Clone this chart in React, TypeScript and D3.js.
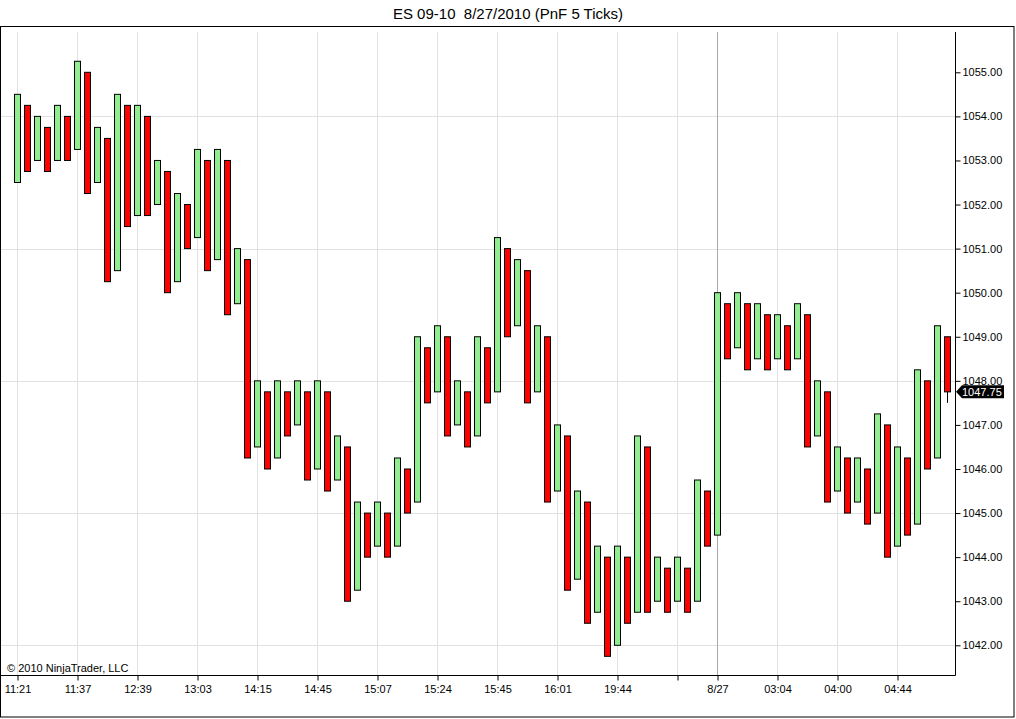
import * as d3 from "d3";
import { useRef, useEffect } from "react";

// PnF columns, oldest first; even columns are X (up), odd are O (down)
const highs = [
  1054.5, 1054.25, 1054.0, 1053.75, 1054.25, 1054.0, 1055.25, 1055.0, 1053.75, 1053.5,
  1054.5, 1054.25, 1054.25, 1054.0, 1053.0, 1052.75, 1052.25, 1052.0, 1053.25, 1053.0,
  1053.25, 1053.0, 1051.0, 1050.75, 1048.0, 1047.75, 1048.0, 1047.75, 1048.0, 1047.75,
  1048.0, 1047.75, 1046.75, 1046.5, 1045.25, 1045.0, 1045.25, 1045.0, 1046.25, 1046.0,
  1049.0, 1048.75, 1049.25, 1049.0, 1048.0, 1047.75, 1049.0, 1048.75, 1051.25, 1051.0,
  1050.75, 1050.5, 1049.25, 1049.0, 1047.0, 1046.75, 1045.5, 1045.25, 1044.25, 1044.0,
  1044.25, 1044.0, 1046.75, 1046.5, 1044.0, 1043.75, 1044.0, 1043.75, 1045.75, 1045.5,
  1050.0, 1049.75, 1050.0, 1049.75, 1049.75, 1049.5, 1049.5, 1049.25, 1049.75, 1049.5,
  1048.0, 1047.75, 1046.5, 1046.25, 1046.25, 1046.0, 1047.25, 1047.0, 1046.5, 1046.25,
  1048.25, 1048.0, 1049.25, 1049.0,
];
const lows = [
  1052.5, 1052.75, 1053.0, 1052.75, 1053.0, 1053.0, 1053.25, 1052.25, 1052.5, 1050.25,
  1050.5, 1051.5, 1051.75, 1051.75, 1052.0, 1050.0, 1050.25, 1051.0, 1051.25, 1050.5,
  1050.75, 1049.5, 1049.75, 1046.25, 1046.5, 1046.0, 1046.25, 1046.75, 1047.0, 1045.75,
  1046.0, 1045.5, 1045.75, 1043.0, 1043.25, 1044.0, 1044.25, 1044.0, 1044.25, 1045.0,
  1045.25, 1047.5, 1047.75, 1046.75, 1047.0, 1046.5, 1046.75, 1047.5, 1047.75, 1049.0,
  1049.25, 1047.5, 1047.75, 1045.25, 1045.5, 1043.25, 1043.5, 1042.5, 1042.75, 1041.75,
  1042.0, 1042.5, 1042.75, 1042.75, 1043.0, 1042.75, 1043.0, 1042.75, 1043.0, 1044.25,
  1044.5, 1048.5, 1048.75, 1048.25, 1048.5, 1048.25, 1048.5, 1048.25, 1048.5, 1046.5,
  1046.75, 1045.25, 1045.5, 1045.0, 1045.25, 1044.75, 1045.0, 1044.0, 1044.25, 1044.5,
  1044.75, 1046.0, 1046.25, 1047.75,
];
const lastPrice = 1047.5;
const lastClose = 1047.75;

const timeTicks = [0, 6, 12, 18, 24, 30, 36, 42, 48, 54, 60, 66, 70, 76, 82, 88];
const timeLabels = [
  "11:21", "11:37", "12:39", "13:03", "14:15", "14:45", "15:07", "15:24",
  "15:45", "16:01", "19:44", "", "8/27", "03:04", "04:00", "04:44",
];
const sessionBreak = 70;
const priceTicks = d3.range(1042, 1056, 1);
const gridPrices = [1042, 1045, 1048, 1051, 1054];

const FONT = "'Liberation Sans', Arial, sans-serif";

export default function App() {
  const width = 1016;
  const height = 719;
  const plotLeft = 1;
  const plotRight = 955;
  const plotTop = 32;
  const plotBottom = 675;

  const gx = useRef<SVGGElement | null>(null);
  const gy = useRef<SVGGElement | null>(null);

  const x = d3.scaleLinear([0, highs.length - 1], [17, 947]);
  const y = d3.scaleLinear([1042, 1055], [645.3, 72.3]);

  useEffect(() => {
    const ax = d3
      .axisBottom(x)
      .tickValues(timeTicks)
      .tickFormat((_, i) => timeLabels[i])
      .tickSize(5)
      .tickSizeOuter(0);
    const g = d3.select(gx.current!).call(ax);
    g.select(".domain").remove();
    g.selectAll("text")
      .attr("font-family", FONT)
      .attr("font-size", 11)
      .attr("fill", "#000")
      .attr("dy", "0.9em");
    g.selectAll("line").attr("stroke", "#000");
  }, []);

  useEffect(() => {
    const ay = d3
      .axisRight(y)
      .tickValues(priceTicks)
      .tickFormat(d3.format(".2f"))
      .tickSize(5)
      .tickPadding(2)
      .tickSizeOuter(0);
    const g = d3.select(gy.current!).call(ay);
    g.select(".domain").remove();
    g.selectAll("text")
      .attr("font-family", FONT)
      .attr("font-size", 11)
      .attr("fill", "#000");
    g.selectAll("line").attr("stroke", "#000");
  }, []);

  const yl = y(lastClose);

  return (
    <svg
      width={width}
      height={height}
      style={{ position: "absolute", left: 0, top: 0, background: "#fff" }}
    >
      <text
        x={508}
        y={18.5}
        textAnchor="middle"
        fontFamily={FONT}
        fontSize={15}
        fill="#000"
        style={{ whiteSpace: "pre" }}
      >
        {"ES 09-10  8/27/2010 (PnF 5 Ticks)"}
      </text>
      <rect x={0.5} y={26.5} width={1013.5} height={690.5} fill="none" stroke="#000" />

      <g stroke="#e1e1e1" strokeWidth={1}>
        {gridPrices.map((p) => (
          <line key={p} x1={plotLeft} x2={plotRight} y1={Math.round(y(p)) + 0.5} y2={Math.round(y(p)) + 0.5} />
        ))}
        {timeTicks
          .filter((t) => t !== sessionBreak)
          .map((t) => (
            <line key={t} x1={x(t) + 0.5} x2={x(t) + 0.5} y1={plotTop} y2={plotBottom} />
          ))}
      </g>
      <line
        x1={x(sessionBreak) + 0.5}
        x2={x(sessionBreak) + 0.5}
        y1={plotTop}
        y2={plotBottom}
        stroke="#a9a9a9"
      />

      <line x1={x(93) + 0.5} x2={x(93) + 0.5} y1={y(lastClose)} y2={y(lastPrice)} stroke="#000" />
      <g stroke="#000" strokeWidth={1}>
        {highs.map((h, i) => (
          <rect
            key={i}
            x={Math.round(x(i)) - 3 + 0.5}
            y={y(h)}
            width={6}
            height={y(lows[i]) - y(h)}
            fill={i % 2 === 0 ? "#90ee90" : "#ff0000"}
          />
        ))}
      </g>

      <line x1={plotLeft} x2={plotRight + 0.5} y1={plotBottom + 0.5} y2={plotBottom + 0.5} stroke="#000" />
      <line x1={plotRight + 0.5} x2={plotRight + 0.5} y1={plotTop} y2={plotBottom + 0.5} stroke="#000" />
      <g ref={gx} transform={`translate(0.5,${plotBottom + 0.5})`} />
      <g ref={gy} transform={`translate(${plotRight + 0.5},0)`} />

      <path
        d={`M${plotRight + 1},${yl} L${plotRight + 7},${yl - 6.5} L1004,${yl - 6.5} L1004,${yl + 6.5} L${plotRight + 7},${yl + 6.5} Z`}
        fill="#000"
      />
      <text x={962} y={yl} dy="0.35em" fontFamily={FONT} fontSize={11} fill="#fff">
        {d3.format(".2f")(lastClose)}
      </text>

      <text x={7} y={672} fontFamily={FONT} fontSize={11} fill="#000">
        © 2010 NinjaTrader, LLC
      </text>
    </svg>
  );
}
